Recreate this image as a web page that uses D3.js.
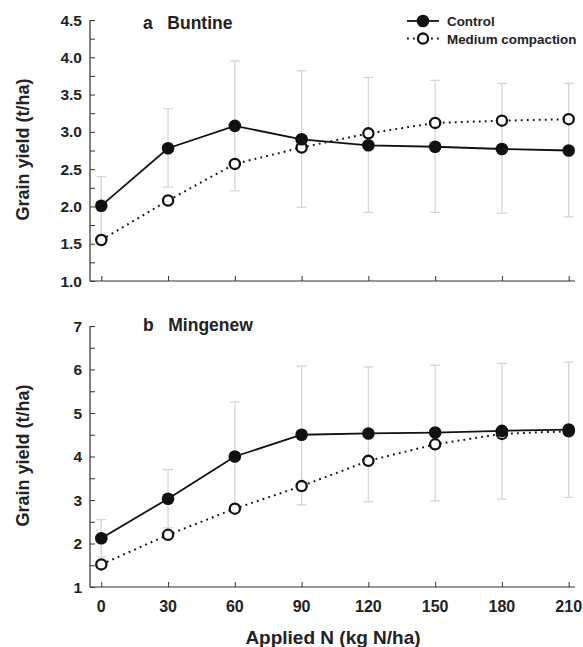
<!DOCTYPE html>
<html>
<head>
<meta charset="utf-8">
<style>
  body { margin: 0; background: #fff; }
  svg text { font-family: "Liberation Sans", Arial, sans-serif; font-weight: bold; fill: #222; }
</style>
</head>
<body>
<script src="https://cdn.jsdelivr.net/npm/d3@7"></script>
<script>
// Data
var nRates = [0, 30, 60, 90, 120, 150, 180, 210];

var buntineControl = [2.01, 2.78, 3.08, 2.90, 2.82, 2.80, 2.77, 2.75];
var buntineCompact = [1.55, 2.08, 2.57, 2.79, 2.98, 3.12, 3.15, 3.17];
var buntineErrLow  = [1.62, 2.26, 2.21, 1.99, 1.92, 1.92, 1.91, 1.86];
var buntineErrHigh = [2.40, 3.31, 3.95, 3.82, 3.73, 3.69, 3.65, 3.65];

var mingenewControl = [2.12, 3.03, 4.00, 4.50, 4.53, 4.55, 4.59, 4.62];
var mingenewCompact = [1.52, 2.20, 2.80, 3.32, 3.90, 4.28, 4.52, 4.58];
var mingenewErrLow  = [1.69, 2.36, 2.75, 2.89, 2.96, 2.98, 3.02, 3.06];
var mingenewErrHigh = [2.55, 3.70, 5.25, 6.08, 6.06, 6.10, 6.14, 6.17];

var topTicks = [1.0, 1.5, 2.0, 2.5, 3.0, 3.5, 4.0, 4.5];
var botTicks = [1, 2, 3, 4, 5, 6, 7];

var W = 583, H = 647;
var svg = d3.select("body").append("svg").attr("width", W).attr("height", H);

var axisLeftX = 90, axisRightX = 575;
var x = d3.scaleLinear().domain([0, 210]).range([101.3, 568.7]);

var panels = [
  { title: "a   Buntine", titleY: 29, y: d3.scaleLinear().domain([1, 4.5]).range([281, 20]),
    ticks: topTicks, minor: d3.range(1, 4.51, 0.25), fmt: d3.format(".1f"), labels: false,
    control: buntineControl, compact: buntineCompact, lo: buntineErrLow, hi: buntineErrHigh, legend: true },
  { title: "b   Mingenew", titleY: 331, y: d3.scaleLinear().domain([1, 7]).range([587, 326]),
    ticks: botTicks, minor: d3.range(1, 7.01, 0.5), fmt: d3.format("d"), labels: true,
    control: mingenewControl, compact: mingenewCompact, lo: mingenewErrLow, hi: mingenewErrHigh, legend: false }
];

panels.forEach(function(p) {
  var y = p.y;
  var g = svg.append("g");

  // error bars
  var eb = g.selectAll(".eb").data(nRates).enter().append("g").attr("stroke", "#d6d6d6").attr("stroke-width", 1.3);
  eb.append("line").attr("x1", d => x(d)).attr("x2", d => x(d))
    .attr("y1", (d, i) => y(p.lo[i])).attr("y2", (d, i) => y(p.hi[i]));
  eb.append("line").attr("x1", d => x(d) - 5).attr("x2", d => x(d) + 5)
    .attr("y1", (d, i) => y(p.hi[i])).attr("y2", (d, i) => y(p.hi[i]));
  eb.append("line").attr("x1", d => x(d) - 5).attr("x2", d => x(d) + 5)
    .attr("y1", (d, i) => y(p.lo[i])).attr("y2", (d, i) => y(p.lo[i]));

  // axes
  var yAxis = d3.axisLeft(y).tickValues(p.minor).tickSizeInner(-5).tickSizeOuter(0).tickFormat("");
  var ga = g.append("g").attr("transform", `translate(${axisLeftX},0)`).call(yAxis);
  ga.select(".domain").remove();
  ga.selectAll("line").attr("stroke", "#333");
  g.selectAll(".ylab").data(p.ticks).enter().append("text")
    .attr("x", axisLeftX - 8).attr("y", d => y(d) + 5.5)
    .attr("text-anchor", "end").style("font-size", "15.5px").text(p.fmt);
  g.append("line").attr("x1", axisLeftX).attr("x2", axisLeftX)
    .attr("y1", y.range()[1]).attr("y2", y.range()[0]).attr("stroke", "#333").attr("stroke-width", 1.2);

  var xAxis = d3.axisBottom(x).tickValues(nRates).tickSizeInner(-5).tickSizeOuter(0).tickFormat("");
  var gx = g.append("g").attr("transform", `translate(0,${y.range()[0]})`).call(xAxis);
  gx.select(".domain").remove();
  gx.selectAll("line").attr("stroke", "#333");
  g.append("line").attr("x1", axisLeftX).attr("x2", axisRightX)
    .attr("y1", y.range()[0]).attr("y2", y.range()[0]).attr("stroke", "#333").attr("stroke-width", 1.2);
  if (p.labels) {
    g.selectAll(".xlab").data(nRates).enter().append("text")
      .attr("x", d => x(d)).attr("y", y.range()[0] + 25)
      .attr("text-anchor", "middle").style("font-size", "16px").text(d => d);
  }

  // y title
  var yc = (y.range()[0] + y.range()[1]) / 2;
  g.append("text").attr("transform", `translate(29,${yc - 1}) rotate(-90)`)
    .attr("text-anchor", "middle").style("font-size", "18px").text("Grain yield (t/ha)");

  // panel title
  g.append("text").attr("x", 143).attr("y", p.titleY)
    .style("font-size", "17.5px").attr("xml:space", "preserve").text(p.title);

  // lines
  var line = d3.line().x(d => x(d[0])).y(d => y(d[1]));
  g.append("path").datum(nRates.map((d, i) => [d, p.compact[i]])).attr("d", line)
    .attr("fill", "none").attr("stroke", "#111").attr("stroke-width", 2)
    .attr("stroke-dasharray", "1.8,4.2").attr("stroke-linecap", "butt");
  g.append("path").datum(nRates.map((d, i) => [d, p.control[i]])).attr("d", line)
    .attr("fill", "none").attr("stroke", "#111").attr("stroke-width", 1.8);

  // markers
  g.selectAll(".mc").data(nRates).enter().append("circle")
    .attr("cx", d => x(d)).attr("cy", (d, i) => y(p.compact[i])).attr("r", 5.1)
    .attr("fill", "#fff").attr("stroke", "#111").attr("stroke-width", 2.3);
  g.selectAll(".ct").data(nRates).enter().append("circle")
    .attr("cx", d => x(d)).attr("cy", (d, i) => y(p.control[i])).attr("r", 6.3)
    .attr("fill", "#111");

  if (p.legend) {
    var lg = svg.append("g").attr("transform", "translate(407,21)");
    lg.append("line").attr("x1", 0).attr("x2", 32).attr("y1", 0).attr("y2", 0)
      .attr("stroke", "#111").attr("stroke-width", 1.8);
    lg.append("circle").attr("cx", 16).attr("cy", 0).attr("r", 6.3).attr("fill", "#111");
    lg.append("text").attr("x", 40).attr("y", 5).style("font-size", "13.4px").text("Control");
    lg.append("line").attr("x1", 0).attr("x2", 35).attr("y1", 17.6).attr("y2", 17.6)
      .attr("stroke", "#111").attr("stroke-width", 2).attr("stroke-dasharray", "1.8,4.2");
    lg.append("circle").attr("cx", 16).attr("cy", 17.6).attr("r", 5.1)
      .attr("fill", "#fff").attr("stroke", "#111").attr("stroke-width", 2.3);
    lg.append("text").attr("x", 40).attr("y", 22.6).style("font-size", "13.4px").text("Medium compaction");
  }
});

svg.append("text").attr("x", 333).attr("y", 644).attr("text-anchor", "middle")
  .style("font-size", "19px").text("Applied N (kg N/ha)");
</script>
</body>
</html>
